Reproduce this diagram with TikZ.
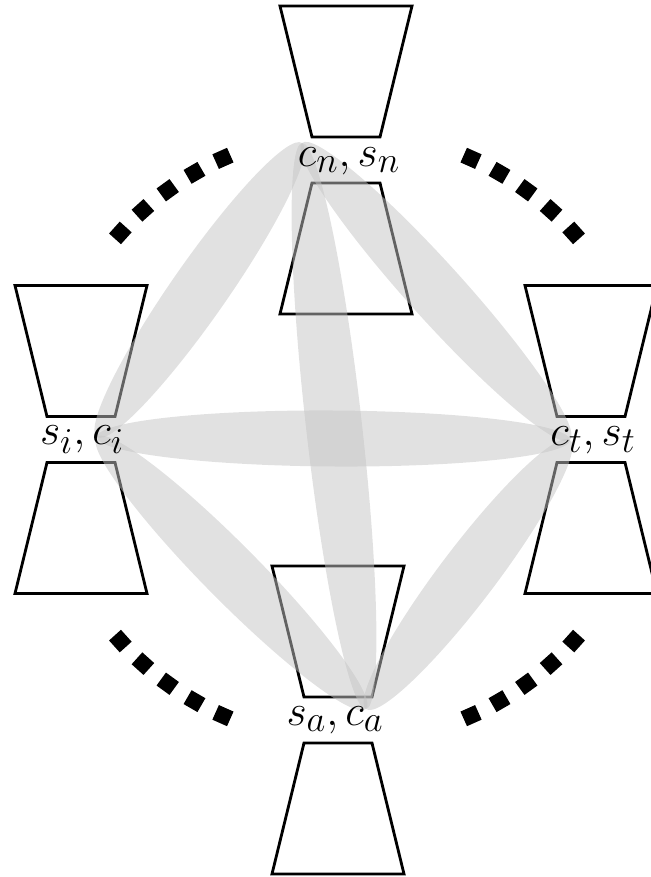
\documentclass[tikz,border=0pt]{standalone}
\usepackage{amsmath}
\usetikzlibrary{shapes.geometric, calc}

\begin{document}
\begin{tikzpicture}[
  x=0.02cm, y=0.02cm,
  cup/.style={draw=black, line width=1.6pt},
  link/.style={ellipse, fill=black!23, fill opacity=0.5, inner sep=0pt, minimum height=1.12cm},
  tag/.style={font=\fontsize{28}{33}\selectfont, inner sep=0pt},
  blob/.style={fill=black, minimum size=0.32cm, inner sep=0pt},
]
\useasboundingbox (0,0) rectangle (651,877);
\clip (0,0) rectangle (651,877);

% hourglasses
\foreach \cx/\cy in {346/717, 81/437.5, 591/437.5, 338/157} {
  \draw[cup] (\cx-66,\cy+154) -- (\cx+66,\cy+154) -- (\cx+34,\cy+23) -- (\cx-34,\cy+23) -- cycle;
  \draw[cup] (\cx-66,\cy-154) -- (\cx+66,\cy-154) -- (\cx+34,\cy-23) -- (\cx-34,\cy-23) -- cycle;
}

% ends of the links
\coordinate (n) at (302,734);
\coordinate (i) at (97,440);
\coordinate (t) at (570,437);
\coordinate (a) at (366,168);

\foreach \u/\v in {i/t, n/a, i/n, n/t, i/a, t/a}
  \path let \p1=($(\v)-(\u)$) in
    node[link, minimum width={veclen(\x1,\y1)}, rotate={atan2(\y1,\x1)}] (\u\v) at ($(\u)!0.5!(\v)$) {};

\node[tag] (cn) at (349,716) {$c_n, s_n$};
\node[tag] (ci) at (82,437) {$s_i, c_i$};
\node[tag] (ct) at (593,437) {$c_t, s_t$};
\node[tag] (ca) at (335,157) {$s_a, c_a$};

% dotted arcs
\foreach \a in {42,48,54,60,66,114,120,126,132,138} {
  \node[blob, rotate=\a] (up\a) at ($(347,440)+(\a:305)$) {};
  \node[blob, rotate=-\a] (down\a) at ($(347,440)+(-\a:305)$) {};
}
\end{tikzpicture}
\end{document}
